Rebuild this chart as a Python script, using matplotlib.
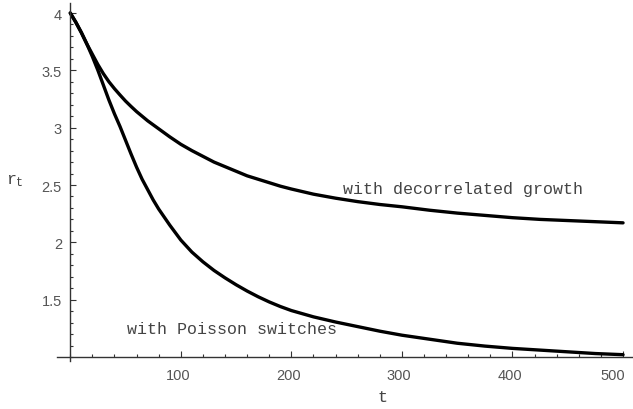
import matplotlib
matplotlib.use("Agg")
import matplotlib.pyplot as plt
from matplotlib.ticker import MultipleLocator, FixedLocator
from matplotlib.transforms import ScaledTranslation

# ---- data ----
t_decor = [0, 5, 10, 15, 20, 25, 30, 35, 40, 45, 50, 55, 60, 70, 80, 90, 100, 110, 120, 130,
           140, 150, 160, 170, 180, 190, 200, 220, 240, 260, 280, 300, 325, 350, 375, 400,
           425, 450, 475, 500]
r_decor = [4.00, 3.92, 3.83, 3.73, 3.64, 3.55, 3.47, 3.40, 3.34, 3.285, 3.232, 3.185, 3.14, 3.06,
           2.99, 2.92, 2.855, 2.80, 2.75, 2.70, 2.66, 2.62, 2.58, 2.55, 2.52, 2.49, 2.465,
           2.42, 2.385, 2.355, 2.33, 2.31, 2.28, 2.255, 2.235, 2.215, 2.20, 2.19, 2.18, 2.17]

t_poisson = [0, 5, 10, 15, 20, 25, 30, 35, 40, 45, 50, 55, 60, 65, 70, 75, 80, 90, 100, 110,
             120, 130, 140, 150, 160, 170, 180, 190, 200, 220, 240, 260, 280, 300, 325, 350,
             375, 400, 425, 450, 475, 500]
r_poisson = [4.00, 3.92, 3.83, 3.73, 3.62, 3.50, 3.37, 3.24, 3.12, 3.01, 2.89, 2.77, 2.655,
             2.55, 2.46, 2.37, 2.29, 2.15, 2.02, 1.915, 1.83, 1.755, 1.69, 1.63, 1.575, 1.525,
             1.48, 1.44, 1.405, 1.35, 1.305, 1.265, 1.225, 1.19, 1.155, 1.12, 1.095, 1.075,
             1.06, 1.045, 1.03, 1.02]

x_major = [100, 200, 300, 400, 500]
y_major = [1.5, 2, 2.5, 3, 3.5, 4]
y_major_labels = ["1.5", "2", "2.5", "3", "3.5", "4"]

label_decor = "with decorrelated growth"
label_poisson = "with Poisson switches"

plt.rcParams['mathtext.fontset'] = 'custom'
plt.rcParams['mathtext.rm'] = 'Liberation Mono'
plt.rcParams['mathtext.it'] = 'Liberation Mono'

W, H = 633, 410
fig = plt.figure(figsize=(W / 100, H / 100), dpi=100)
ax = fig.add_axes([57 / W, (410 - 362) / H, (633 - 57) / W, (362 - 3.7) / H])

ax.plot(t_decor, r_decor, color='black', lw=2.4, solid_capstyle='round', solid_joinstyle='round')
ax.plot(t_poisson, r_poisson, color='black', lw=2.4, solid_capstyle='round', solid_joinstyle='round')

ax.set_xlim(-12, 509)
ax.set_ylim(0.965, 4.09)

for s in ['top', 'right']:
    ax.spines[s].set_visible(False)
ax.spines['left'].set_position(('data', 0))
ax.spines['bottom'].set_position(('data', 1))
for s in ['left', 'bottom']:
    ax.spines[s].set_color('#333333')
    ax.spines[s].set_linewidth(1.0)

ax.xaxis.set_major_locator(FixedLocator(x_major))
ax.xaxis.set_minor_locator(MultipleLocator(20))
ax.yaxis.set_major_locator(FixedLocator(y_major))
ax.set_yticklabels(y_major_labels)
ax.yaxis.set_minor_locator(MultipleLocator(0.1))

ax.tick_params(axis='both', which='major', direction='in', length=4, width=0.8,
               color='#333333', labelcolor='#555555')
ax.tick_params(axis='both', which='minor', direction='in', length=2.2, width=0.8,
               color='#333333')
ax.tick_params(axis='x', which='major', pad=8)
ax.tick_params(axis='y', which='major', pad=6)
for lab in ax.get_xticklabels() + ax.get_yticklabels():
    lab.set_fontfamily('Liberation Sans')
    lab.set_fontsize(10.5)

xlabs = ax.get_xticklabels()
for i, lab in enumerate(xlabs):
    dx = -10 if i == len(xlabs) - 1 else -3
    lab.set_transform(lab.get_transform() + ScaledTranslation(dx / 100, 0, fig.dpi_scale_trans))

ax.text(355, 2.466, label_decor, family='Liberation Mono', size=12, color='#444444',
        ha='center', va='center')
ax.text(146, 1.245, label_poisson, family='Liberation Mono', size=12, color='#444444',
        ha='center', va='center')

fig.text(15 / W, (410 - 180) / H, r'$r_t$', size=12, color='#444444', ha='center', va='center')
fig.text(382 / W, (410 - 398) / H, 't', family='Liberation Mono', size=12, color='#444444',
         ha='center', va='center')

fig.savefig('out.png', dpi=100)
